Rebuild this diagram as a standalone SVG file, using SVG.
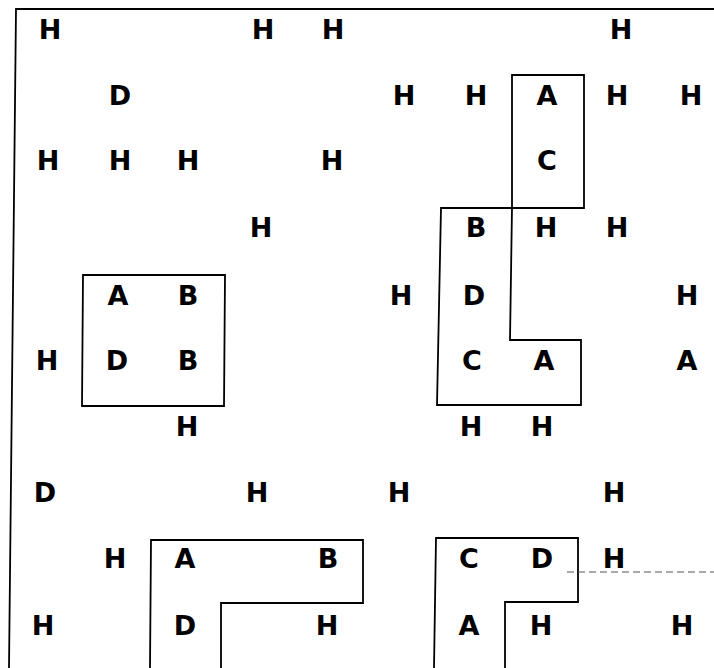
<svg xmlns="http://www.w3.org/2000/svg" width="714" height="668" viewBox="0 0 714 668">
<style>
.t{font-family:"DejaVu Sans","Liberation Sans",sans-serif;font-weight:bold;font-size:27px;fill:#000;text-anchor:middle}
.b{fill:none;stroke:#000;stroke-width:1.8;stroke-linejoin:miter}
.d{fill:none;stroke:#555;stroke-width:1;stroke-dasharray:7 4}
</style>
<rect width="714" height="668" fill="#fff"/>
<g id="frame"><path class="b" d="M714,9 L16,9 L9,668"/></g>
<g id="region-ac"><path class="b" d="M512,208 L512,75 L584,75 L584,208 L512,208"/></g>
<g id="region-bdca"><path class="b" d="M441,208 L512,208 L510,340 L581,340 L581,405 L437,405 Z"/></g>
<g id="region-abdb"><path class="b" d="M83,275 L225,275 L224,406 L82,406 Z"/></g>
<g id="region-abdh"><path class="b" d="M150,668 L151,540 L363,540 L363,603 L221,603 L221,668"/></g>
<g id="region-cdah"><path class="b" d="M434,668 L436,538 L578,538 L578,602 L505,602 L505,668"/></g>
<g id="connectors"><path class="d" d="M567,572 L714,572"/></g>
<g id="letters">
<text class="t" x="50" y="39">H</text><text class="t" x="263" y="39">H</text><text class="t" x="333" y="39">H</text><text class="t" x="621" y="39">H</text>
<text class="t" x="120" y="105">D</text><text class="t" x="404" y="105">H</text><text class="t" x="476" y="105">H</text><text class="t" x="547" y="105">A</text><text class="t" x="617" y="105">H</text><text class="t" x="691" y="105">H</text>
<text class="t" x="48" y="170">H</text><text class="t" x="120" y="170">H</text><text class="t" x="188" y="170">H</text><text class="t" x="332" y="170">H</text><text class="t" x="547" y="170">C</text>
<text class="t" x="261" y="237">H</text><text class="t" x="476" y="237">B</text><text class="t" x="546" y="237">H</text><text class="t" x="617" y="237">H</text>
<text class="t" x="118" y="305">A</text><text class="t" x="188" y="305">B</text><text class="t" x="401" y="305">H</text><text class="t" x="474" y="305">D</text><text class="t" x="687" y="305">H</text>
<text class="t" x="47" y="370">H</text><text class="t" x="117" y="370">D</text><text class="t" x="188" y="370">B</text><text class="t" x="472" y="370">C</text><text class="t" x="544" y="370">A</text><text class="t" x="687" y="370">A</text>
<text class="t" x="187" y="436">H</text><text class="t" x="471" y="436">H</text><text class="t" x="542" y="436">H</text>
<text class="t" x="45" y="502">D</text><text class="t" x="257" y="502">H</text><text class="t" x="399" y="502">H</text><text class="t" x="614" y="502">H</text>
<text class="t" x="115" y="568">H</text><text class="t" x="185" y="568">A</text><text class="t" x="328" y="568">B</text><text class="t" x="469" y="568">C</text><text class="t" x="542" y="568">D</text><text class="t" x="614" y="568">H</text>
<text class="t" x="43" y="635">H</text><text class="t" x="185" y="635">D</text><text class="t" x="327" y="635">H</text><text class="t" x="469" y="635">A</text><text class="t" x="541" y="635">H</text><text class="t" x="682" y="635">H</text>
</g>
</svg>
